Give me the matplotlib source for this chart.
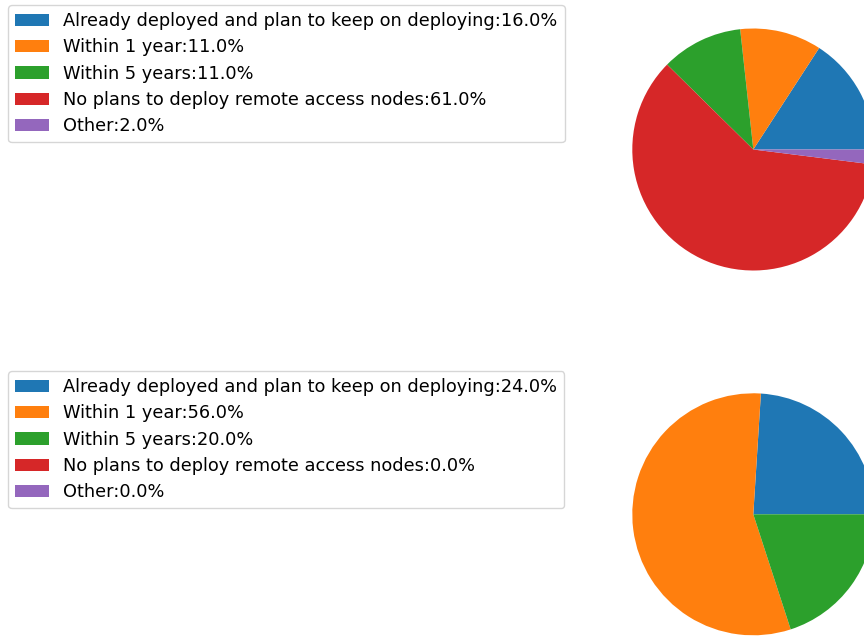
import matplotlib
matplotlib.use("Agg")
import matplotlib.pyplot as plt

categories = [
    "Already deployed and plan to keep on deploying",
    "Within 1 year",
    "Within 5 years",
    "No plans to deploy remote access nodes",
    "Other",
]
values_top = [16.0, 11.0, 11.0, 61.0, 2.0]
values_bottom = [24.0, 56.0, 20.0, 0.0, 0.0]
colors = ["#1f77b4", "#ff7f0e", "#2ca02c", "#d62728", "#9467bd"]

W, H = 864, 637
fig = plt.figure(figsize=(W / 100, H / 100), dpi=100)

R = 121.0
side = 2.5 * R


def add_pie(cx, cy, values, leg_top):
    ax = fig.add_axes([(cx - side / 2) / W, (H - cy - side / 2) / H, side / W, side / H])
    wedges, _ = ax.pie(values, colors=colors, startangle=0, counterclock=True)
    ax.set_aspect("equal")
    labels = [f"{c}:{v}%" for c, v in zip(categories, values)]
    fig.legend(wedges, labels, loc="upper left",
               bbox_to_anchor=(8 / W, 1 - leg_top / H),
               bbox_transform=fig.transFigure,
               borderaxespad=0, fontsize=12.75, labelspacing=0.47,
               handlelength=1.92)
    return ax


add_pie(753.3, 149.5, values_top, 5)
add_pie(753.3, 514.3, values_bottom, 371)

fig.savefig("out.png", dpi=100)
